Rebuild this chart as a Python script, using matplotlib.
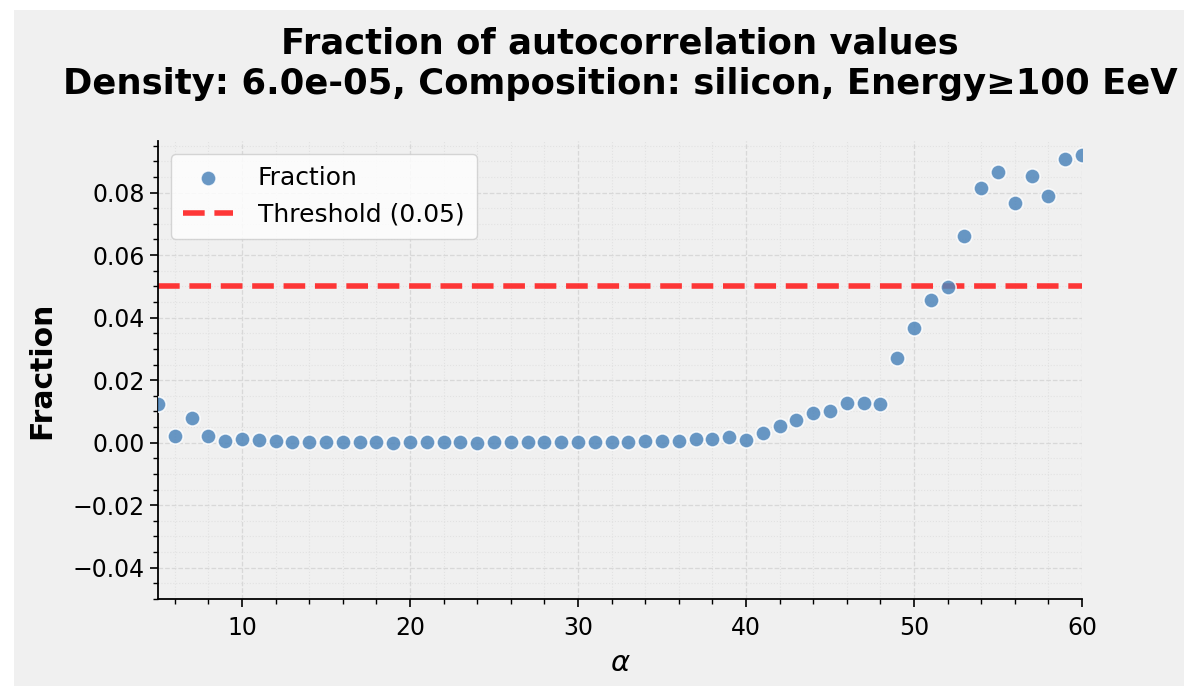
import matplotlib.pyplot as plt
from matplotlib.patches import Rectangle
from matplotlib.ticker import AutoMinorLocator

# data
alpha = list(range(5, 61))
fraction = [
    0.0123, 0.0021, 0.0078, 0.0021, 0.0006, 0.0012, 0.0008, 0.0005, 0.0002, 0.0002,
    0.0001, 0.0001, 0.0001, 0.0001, 0.0000, 0.0001, 0.0001, 0.0001, 0.0001, 0.0000,
    0.0001, 0.0001, 0.0001, 0.0003, 0.0002, 0.0002, 0.0003, 0.0002, 0.0002, 0.0004,
    0.0004, 0.0004,
    0.0011, 0.0012, 0.0018, 0.0008, 0.0030, 0.0054, 0.0072, 0.0096,
    0.0100, 0.0128, 0.0127, 0.0124, 0.0271, 0.0368, 0.0456, 0.0497, 0.0661, 0.0815,
    0.0867, 0.0768, 0.0854, 0.0790, 0.0909, 0.0919,
]
threshold = 0.05
title = "Fraction of autocorrelation values\nDensity: 6.0e-05, Composition: silicon, Energy\u2265100 EeV"

bg = "#f0f0f0"
fig = plt.figure(figsize=(11.84, 6.87), dpi=100, facecolor="white")
fig.patches.append(Rectangle((14 / 1184, 1 / 687), 1 - 14 / 1184, 1 - 11 / 687,
                             transform=fig.transFigure, facecolor=bg,
                             edgecolor="none", zorder=-10))
ax = fig.add_axes([158 / 1184, 1 - 599 / 687, (1082 - 158) / 1184, (599 - 141) / 687])
ax.set_facecolor(bg)

ax.scatter(alpha, fraction, s=120, color="#4f86bb", alpha=0.85,
           edgecolors="white", linewidths=1.2, label="Fraction", zorder=3)
ax.axhline(threshold, color="#ff2222", ls="--", lw=4, alpha=0.9,
           dashes=(3.9, 1.75), label="Threshold (0.05)", zorder=2)

ax.set_xlim(5, 60)
ax.set_ylim(-0.05, 0.0965)
ax.set_yticks([-0.04, -0.02, 0.0, 0.02, 0.04, 0.06, 0.08])
ax.xaxis.set_minor_locator(AutoMinorLocator(5))
ax.yaxis.set_minor_locator(AutoMinorLocator(4))
ax.tick_params(which="major", labelsize=17, length=6, width=1.2)
ax.tick_params(axis="x", which="major", pad=6)
ax.tick_params(which="minor", length=3.5, width=1.0)
ax.grid(which="major", ls="--", color="#d8d8d8", lw=0.9)
ax.grid(which="minor", ls=":", color="#e2e2e2", lw=0.8)
ax.set_axisbelow(True)

for s in ["top", "right"]:
    ax.spines[s].set_visible(False)
for s in ["left", "bottom"]:
    ax.spines[s].set_linewidth(1.3)

ax.set_xlabel(r"$\alpha$", fontsize=21, labelpad=7)
ax.set_ylabel("Fraction", fontsize=21.5, fontweight="bold", labelpad=12)
ax.set_title(title, fontsize=25.5, fontweight="bold", pad=34, linespacing=1.25)

leg = ax.legend(loc="upper left", fontsize=18, framealpha=0.8, handlelength=2.0,
                handletextpad=1.0, borderpad=0.5, fancybox=True)
leg.get_frame().set_edgecolor("#cccccc")

fig.savefig("out.png", dpi=100, facecolor=fig.get_facecolor())
